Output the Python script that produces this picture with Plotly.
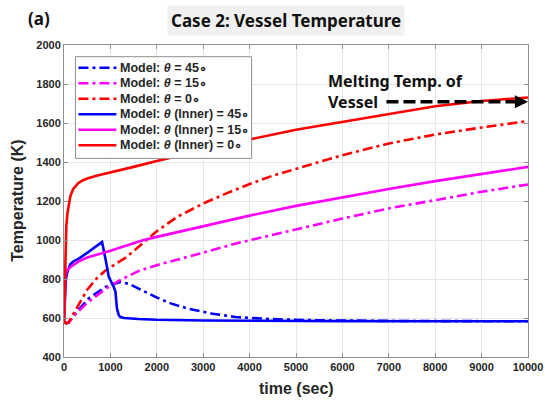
import plotly.graph_objects as go

# ---------------- data ----------------
t_red_in = [0, 10, 20, 35, 50, 75, 100, 140, 200, 300, 400, 500, 700, 1000, 1500, 2000,
            3000, 4000, 5000, 6000, 7000, 8000, 9000, 10000]
T_red_in = [580, 720, 870, 1000, 1070, 1140, 1180, 1228, 1262, 1290, 1305, 1315, 1330, 1346,
            1375, 1405, 1462, 1516, 1565, 1606, 1648, 1686, 1713, 1731]

t_red = [0, 50, 100, 200, 300, 500, 700, 900, 1350, 1700, 2000, 2450, 3000, 3500, 4000,
         4500, 5000, 6000, 7000, 8000, 9000, 10000]
T_red = [580, 572, 578, 620, 665, 745, 802, 845, 913, 985, 1045, 1120, 1187, 1239, 1287,
         1330, 1366, 1435, 1495, 1541, 1577, 1610]

t_mag_in = [0, 15, 30, 60, 100, 140, 300, 500, 1000, 1700, 2000, 3000, 4000, 5000, 6000,
            7000, 8000, 9000, 10000]
T_mag_in = [580, 750, 820, 842, 855, 862, 888, 910, 945, 999, 1016, 1071, 1125, 1175, 1220,
            1262, 1302, 1340, 1375]

t_mag = [0, 50, 100, 250, 500, 900, 1200, 1600, 2000, 2700, 3000, 3700, 4000, 5000, 6000,
         7000, 8000, 9000, 10000]
T_mag = [580, 574, 576, 620, 678, 750, 793, 840, 871, 915, 935, 982, 999, 1055, 1110,
         1162, 1204, 1247, 1285]

t_blue_in = [0, 20, 40, 70, 100, 140, 200, 320, 530, 820, 900, 965, 1070, 1110, 1140, 1180,
             1215, 1300, 1600, 2000, 3000, 4000, 6000, 8000, 10000]
T_blue_in = [580, 720, 800, 835, 858, 877, 890, 905, 939, 990, 896, 811, 760, 734, 650, 615,
             605, 600, 595, 591, 587, 585, 584, 583, 583]

t_blue = [0, 50, 100, 250, 530, 890, 1215, 1400, 1610, 1970, 2300, 2680, 3200, 3690, 4500,
          5500, 7000, 10000]
T_blue = [580, 574, 578, 623, 700, 759, 785, 775, 751, 708, 675, 648, 622, 605, 594,
          588, 585, 583]

series_names = ["Model: <i>θ</i> = 45∘", "Model: <i>θ</i> = 15∘", "Model: <i>θ</i> = 0∘",
                "Model: <i>θ</i> (Inner) = 45∘", "Model: <i>θ</i> (Inner) = 15∘",
                "Model: <i>θ</i> (Inner) = 0∘"]

melt_T = 1709
arrow_x0, arrow_x1 = 6950, 10000

x_ticks = list(range(0, 10001, 1000))
y_ticks = list(range(400, 2001, 200))

# ---------------- figure ----------------
W, H = 545, 400
L, R, T, B = 63.5, 16.5, 45, 43.3
PW, PH = W - L - R, H - T - B


def px_x(p):
    return (p - L) / PW


def px_y(p):
    return (H - B - p) / PH


BLUE, MAG, RED = "#0000ff", "#ff00ff", "#ff0000"
DASHDOT = "10px,4px,3px,4px"
LW = 2.6

fig = go.Figure()
series = [
    (t_blue, T_blue, BLUE, DASHDOT),
    (t_mag, T_mag, MAG, DASHDOT),
    (t_red, T_red, RED, DASHDOT),
    (t_blue_in, T_blue_in, BLUE, "solid"),
    (t_mag_in, T_mag_in, MAG, "solid"),
    (t_red_in, T_red_in, RED, "solid"),
]
for (x, y, c, d), name in zip(series, series_names):
    fig.add_trace(go.Scatter(x=x, y=y, mode="lines", name=name, showlegend=False,
                             line=dict(color=c, width=LW, dash=d), hoverinfo="skip"))

tickfont = dict(family="Arial, Liberation Sans", size=11, color="#262626", weight="bold")
axis_common = dict(showline=True, linecolor="#8f8f8f", linewidth=1, mirror="ticks",
                   ticks="inside", ticklen=4, tickcolor="#8f8f8f",
                   showgrid=True, gridcolor="#e6e6e6", gridwidth=1,
                   zeroline=False, tickfont=tickfont, automargin=False)

fig.update_xaxes(range=[0, 10000], tickvals=x_ticks, ticktext=[str(v) for v in x_ticks],
                 **axis_common)
fig.update_yaxes(range=[400, 2000], tickvals=y_ticks, ticktext=[str(v) for v in y_ticks],
                 **axis_common)

# dashed arrow for melting temperature
fig.add_shape(type="line", xref="x", yref="y", x0=arrow_x0, x1=9760, y0=melt_T, y1=melt_T,
              line=dict(color="black", width=3.5, dash="12px,5px"), layer="above")

annos = [
    dict(x=arrow_x1, y=melt_T, xref="x", yref="y", ax=9700, ay=melt_T, axref="x", ayref="y",
         showarrow=True, arrowhead=2, arrowsize=0.75, arrowwidth=3.5, arrowcolor="black",
         text=""),
    dict(x=px_x(326), y=px_y(91.5), xref="paper", yref="paper", xanchor="left",
         yanchor="middle", align="left", showarrow=False,
         text="Melting Temp. of<br>Vessel",
         font=dict(family="Noto Sans", size=16, color="#111111", weight="bold")),
    dict(x=px_x(286), y=px_y(20.8), xref="paper", yref="paper", xanchor="center",
         yanchor="middle", showarrow=False, text="Case 2: Vessel Temperature",
         bgcolor="#f0f0f0", borderpad=3,
         font=dict(family="Noto Sans", size=17, color="#111111", weight="bold")),
    dict(x=px_x(38), y=px_y(19), xref="paper", yref="paper", xanchor="center",
         yanchor="middle", showarrow=False, text="(a)",
         font=dict(family="Noto Sans", size=17, color="#111111", weight="bold")),
    dict(x=px_x(296), y=px_y(388), xref="paper", yref="paper", xanchor="center",
         yanchor="middle", showarrow=False, text="time (sec)",
         font=dict(family="Arial, Liberation Sans", size=16, color="#262626", weight="bold")),
    dict(x=px_x(17), y=px_y(201), xref="paper", yref="paper", xanchor="center",
         yanchor="middle", showarrow=False, text="Temperature (K)", textangle=-90,
         font=dict(family="Arial, Liberation Sans", size=16, color="#262626", weight="bold")),
]
for a in annos:
    fig.add_annotation(**a)

# MATLAB-style compact legend (box, line samples, labels)
LEG_L, LEG_R, LEG_T, LEG_B = 75, 251.5, 56.7, 158.3
ROW0, ROW_H = 67.7, 15.5
SAMP_L, SAMP_R, TXT_L = 78, 116, 118
fig.add_shape(type="rect", xref="paper", yref="paper",
              x0=px_x(LEG_L), x1=px_x(LEG_R), y0=px_y(LEG_B), y1=px_y(LEG_T),
              fillcolor="white", line=dict(color="#8f8f8f", width=1), layer="above")
for i, ((_, _, c, d), name) in enumerate(zip(series, series_names)):
    yy = px_y(ROW0 + i * ROW_H)
    fig.add_shape(type="line", xref="paper", yref="paper",
                  x0=px_x(SAMP_L), x1=px_x(SAMP_R), y0=yy, y1=yy,
                  line=dict(color=c, width=LW, dash=d), layer="above")
    fig.add_annotation(x=px_x(TXT_L), y=yy, xref="paper", yref="paper", xanchor="left",
                       yanchor="middle", showarrow=False, text=name,
                       font=dict(family="Arial, Liberation Sans", size=12.5, color="#262626",
                                 weight="bold"))

fig.update_layout(
    width=W, height=H,
    margin=dict(l=L, r=R, t=T, b=B, pad=0),
    paper_bgcolor="white", plot_bgcolor="white",
    showlegend=False, hovermode=False,
)

fig.write_html("out.html", config={"displayModeBar": False},
               post_script="document.body.style.margin='0';document.body.style.padding='0';")
